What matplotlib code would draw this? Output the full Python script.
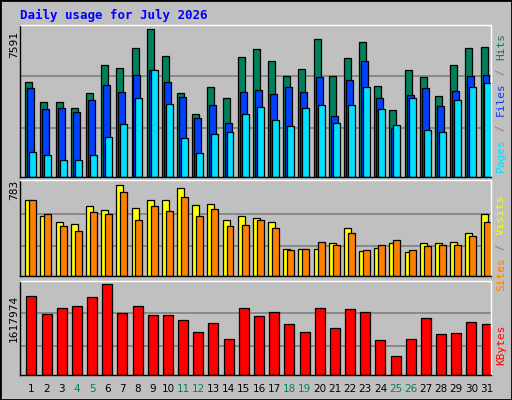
import matplotlib
matplotlib.use("Agg")
import matplotlib.pyplot as plt
import numpy as np

days = list(range(1, 32))
weekend = [4, 5, 11, 12, 18, 19, 25, 26]
hits = [4860,3881,3830,3572,4294,5736,5582,6612,7591,6200,4294,3263,4603,4036,6148,6560,5942,5169,5530,7076,5169,6097,6921,4654,3469,5479,5118,4139,5736,6612,6664]
files = [4551,3521,3572,3366,3984,4706,4345,5221,5479,4860,4087,3057,3727,2799,4345,4448,4242,4603,4345,5118,3160,4963,5942,4036,2542,4190,4551,3675,4397,5169,5221]
pages = [1305,1151,893,893,1151,2078,2748,4036,5479,3778,2027,1254,2233,2336,3263,3624,2954,2645,3572,3727,2799,3727,4603,3521,2696,4036,2439,2336,3933,4603,4809]
sites = [655,519,460,443,604,570,783,587,655,655,757,613,621,477,511,494,460,230,230,230,281,409,213,238,281,204,281,281,289,366,536]
visits = [655,536,426,383,553,536,723,477,604,562,681,519,579,426,434,485,409,221,230,289,264,374,221,264,306,221,255,264,264,340,460]
kbytes = [1404604,1084568,1191247,1226807,1386824,1617974,1102348,1226807,1066788,1066788,977889,764531,924549,640073,1191247,1049008,1120127,906770,764531,1191247,835650,1173467,1120127,622293,337816,640073,1013449,728971,746752,942329,906770]

BG = "#c0c0c0"
fig = plt.figure(figsize=(5.12, 4.0), dpi=100, facecolor=BG)
fig.patches.append(plt.Rectangle((0, 0), 1, 1, transform=fig.transFigure, fill=False, edgecolor="black", lw=2))
x = np.arange(31)
L, W = 20.3/512, 470.4/512

def mkax(bottom, height, top, grids):
    ax = fig.add_axes([L, bottom, W, height], facecolor=BG)
    ax.set_xlim(0, 31)
    ax.set_ylim(0, top)
    for g in grids:
        ax.axhline(g, color="#808080", lw=1.2, zorder=0)
    ax.set_xticks([]); ax.set_yticks([])
    for s in ax.spines.values():
        s.set_color("black"); s.set_linewidth(1)
    ax.spines["top"].set_color("white"); ax.spines["right"].set_color("white")
    return ax

ek = dict(edgecolor="black", linewidth=0.9, align="edge")
a1 = mkax(0.5575, 0.38, 7814, [5169, 2542])
a1.bar(x+0.33, hits, 0.46, color="#00805c", **ek)
a1.bar(x+0.46, files, 0.46, color="#0040ff", **ek)
a1.bar(x+0.59, pages, 0.46, color="#00e0ff", **ek)

a2 = mkax(0.30925, 0.24, 820, [536, 255])
a2.bar(x+0.33, sites, 0.46, color="#ffff00", **ek)
a2.bar(x+0.59, visits, 0.46, color="#ff8000", **ek)

a3 = mkax(0.06175, 0.2358, 1677250, [1102300, 515600])
a3.bar(x+0.4, kbytes, 0.66, color="#ff0000", **ek)

mono = "DejaVu Sans Mono"
fig.text(20/512, 1-15/400, "Daily usage for July 2026", color="#0000ff", fontsize=9, fontweight="bold", family=mono, va="center")
fig.text(14/512, 1-45/400, "7591", rotation=90, fontsize=8, family=mono, ha="center", va="center")
fig.text(14/512, 1-190/400, "783", rotation=90, fontsize=8, family=mono, ha="center", va="center")
fig.text(14/512, 1-318/400, "1617974", rotation=90, fontsize=8, family=mono, ha="center", va="center")

def rlabel(parts, ycenter):
    # parts bottom-to-top
    fs = 8
    ch = 7.0
    total = sum(len(t) for t, c in parts) * ch
    y = ycenter + total/2
    for t, c in parts:
        h = len(t)*ch
        fig.text(501/512, 1-(y - h/2)/400, t, rotation=90, color=c, fontsize=fs, family=mono, ha="center", va="center")
        y -= h

rlabel([("Pages", "#00e0ff"), (" / ", "#808080"), ("Files", "#0040ff"), (" / ", "#808080"), ("Hits", "#00805c")], 103)
rlabel([("Sites", "#ff8000"), (" / ", "#808080"), ("Visits", "#ffff00")], 243)
rlabel([("KBytes", "#ff0000")], 345)

for d in days:
    xp = (20.3 + (d-1+0.73)*470.4/31)/512
    fig.text(xp, 1-389/400, str(d), fontsize=7.5, ha="center", va="center",
             color="#008060" if d in weekend else "black")

fig.savefig("out.png", dpi=100, facecolor=BG)
